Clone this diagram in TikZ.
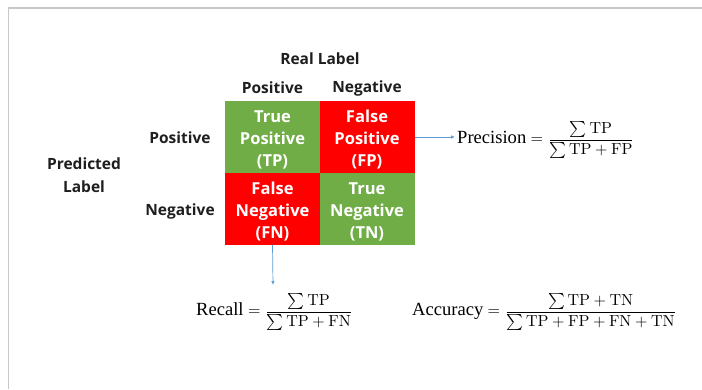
\documentclass[tikz,border=0pt]{standalone}
\usepackage{fontspec}
\newfontfamily\labfont{Open Sans}
\newfontfamily\wfont{Liberation Serif}
\usetikzlibrary{arrows.meta}
\definecolor{cellgreen}{RGB}{112,173,71}
\definecolor{cellred}{RGB}{255,0,0}
\definecolor{arrowblue}{RGB}{91,155,213}
\definecolor{framegray}{RGB}{200,200,200}
\definecolor{labgray}{RGB}{30,30,30}
\tikzset{
  cell/.style={rectangle, inner sep=0pt, minimum width=95pt, minimum height=72pt},
  celltext/.style={inner sep=0pt, yshift=-3pt, align=center, text=white,
    font=\labfont\bfseries\fontsize{16.5}{22}\selectfont},
  head/.style={inner sep=0pt, align=center, text=labgray, font=\labfont\bfseries\fontsize{15.5}{23}\selectfont},
  formula/.style={inner sep=0pt, anchor=west},
  conn/.style={draw=arrowblue, line width=0.7pt, -{Latex[length=4pt,width=3.5pt]}}
}
\newcommand{\fbig}[1]{\scalebox{1.6}{$\displaystyle #1$}}
\newcommand{\fword}[1]{\mbox{\wfont\fontsize{11.6}{14}\selectfont #1}}
\begin{document}
\begin{tikzpicture}[x=1pt,y=-1pt]
\useasboundingbox (0,0) rectangle (702,389);
\draw[framegray, line width=1.5pt] (8.5,389) -- (8.5,8) -- (702,8);

\node[cell, fill=cellgreen] (TP) at (272.5,137) {};
\node[cell, fill=cellred]   (FP) at (367,137) {};
\node[cell, fill=cellred]   (FN) at (272.5,208.5) {};
\node[cell, fill=cellgreen] (TN) at (367,208.5) {};
\node[celltext] (TPt) at (TP.center) {True\\Positive\\(TP)};
\node[celltext] (FPt) at (FP.center) {False\\Positive\\(FP)};
\node[celltext] (FNt) at (FN.center) {False\\Negative\\(FN)};
\node[celltext] (TNt) at (TN.center) {True\\Negative\\(TN)};

\node[head] (real) at (320,59) {Real Label};
\node[head] (cpos) at (272.5,88) {Positive};
\node[head] (cneg) at (367,88) {Negative};
\node[head] (rpos) at (180,138) {Positive};
\node[head] (rneg) at (180,211) {Negative};
\node[head] (pred) at (84,175) {Predicted\\Label};

\node[formula] (prec) at (457,140) {\fbig{\fword{Precision}=\frac{\sum\mathrm{TP}}{\sum\mathrm{TP}+\mathrm{FP}}}};
\node[formula] (rec) at (196,312) {\fbig{\fword{Recall}=\frac{\sum\mathrm{TP}}{\sum\mathrm{TP}+\mathrm{FN}}}};
\node[formula] (acc) at (412,312) {\fbig{\fword{Accuracy}=\frac{\sum\mathrm{TP}+\mathrm{TN}}{\sum\mathrm{TP}+\mathrm{FP}+\mathrm{FN}+\mathrm{TN}}}};

\coordinate (precin) at (455,137);
\coordinate (recin) at (273,285);
\draw[conn] (FP.east) -- (precin);
\draw[conn] (FN.south) -- (recin);
\end{tikzpicture}
\end{document}
